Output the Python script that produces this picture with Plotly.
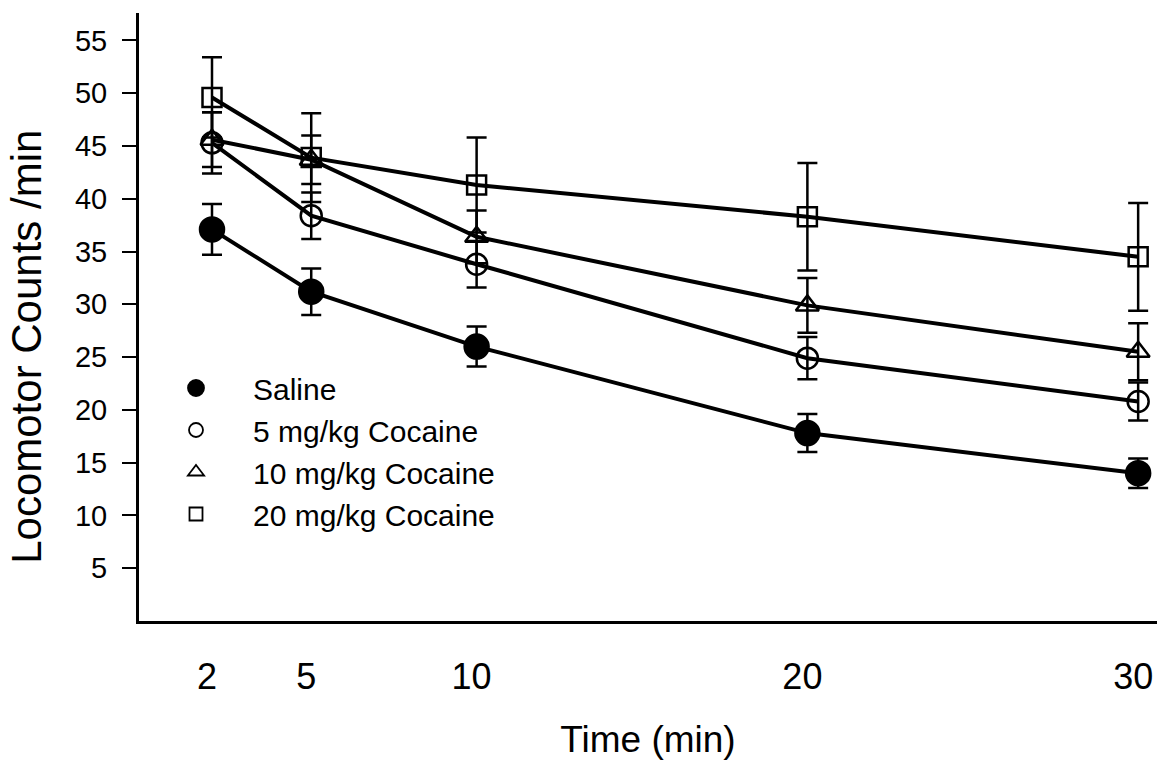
import plotly.graph_objects as go

# Sampling times (min)
time_min = [2, 5, 10, 20, 30]

# Mean locomotor counts per minute and error (SEM) for each treatment
saline = [37.1, 31.2, 26.0, 17.8, 14.0]
saline_err = [2.4, 2.2, 1.9, 1.8, 1.4]

cocaine_5 = [45.3, 38.4, 33.8, 24.9, 20.8]
cocaine_5_err = [2.9, 2.2, 2.2, 2.0, 1.8]

cocaine_10 = [45.6, 43.7, 36.4, 29.9, 25.5]
cocaine_10_err = [2.6, 2.3, 2.5, 2.6, 2.7]

cocaine_20 = [49.6, 43.9, 41.3, 38.3, 34.5]
cocaine_20_err = [3.8, 4.2, 4.5, 5.1, 5.1]

series_names = ["Saline", "5 mg/kg Cocaine", "10 mg/kg Cocaine", "20 mg/kg Cocaine"]
y_ticks = [5, 10, 15, 20, 25, 30, 35, 40, 45, 50, 55]

BLACK = "#000000"
FONT = "Liberation Sans, Arial, sans-serif"

series = [
    (series_names[0], saline, saline_err, "circle", 24),
    (series_names[1], cocaine_5, cocaine_5_err, "circle-open", 21),
    (series_names[2], cocaine_10, cocaine_10_err, "triangle-up-open", 20),
    (series_names[3], cocaine_20, cocaine_20_err, "square-open", 19),
]

fig = go.Figure()

# Data traces: lines, markers and error bars
for name, vals, errs, symbol, size in series:
    fig.add_trace(go.Scatter(
        x=time_min, y=vals,
        mode="lines+markers",
        name=name,
        showlegend=False,
        line=dict(color=BLACK, width=4),
        marker=dict(symbol=symbol, size=size, color=BLACK,
                    line=dict(color=BLACK, width=2.5)),
        error_y=dict(type="data", array=errs, visible=True,
                     color=BLACK, thickness=2.5, width=10),
    ))

# Legend entries: marker only
legend_sizes = [16, 14, 14, 13]
for (name, _, _, symbol, _), lsize in zip(series, legend_sizes):
    fig.add_trace(go.Scatter(
        x=[None], y=[None],
        mode="markers",
        name=name,
        marker=dict(symbol=symbol, size=lsize, color=BLACK,
                    line=dict(color=BLACK, width=1.8)),
    ))

# Y-axis title placed as a rotated annotation
fig.add_annotation(
    text="Locomotor Counts /min",
    xref="paper", yref="paper",
    x=-0.11, y=0.451,
    xanchor="center", yanchor="middle",
    textangle=-90,
    showarrow=False,
    font=dict(family=FONT, size=42, color=BLACK),
)

fig.update_layout(
    width=1158, height=760,
    margin=dict(l=139, r=1, t=13, b=139),
    paper_bgcolor="white",
    plot_bgcolor="white",
    font=dict(family=FONT, color=BLACK),
    legend=dict(
        x=0.0, y=0.426, xanchor="left", yanchor="top",
        font=dict(family=FONT, size=30, color=BLACK),
        itemwidth=104,
        itemsizing="trace",
        tracegroupgap=0,
        bgcolor="rgba(0,0,0,0)",
        borderwidth=0,
    ),
    xaxis=dict(
        range=[-0.207, 30.57],
        tickmode="array",
        tickvals=time_min,
        ticktext=[str(t) for t in time_min],
        ticks="",
        showgrid=False,
        zeroline=False,
        showline=True, linecolor=BLACK, linewidth=3,
        tickfont=dict(family=FONT, size=36, color=BLACK),
        ticklabelstandoff=22,
        ticklabelshift=-5,
        ticklabeloverflow="allow",
        title=dict(text="Time (min)", font=dict(family=FONT, size=37, color=BLACK),
                   standoff=34),
    ),
    yaxis=dict(
        range=[0, 57.6],
        tickmode="array",
        tickvals=y_ticks,
        ticks="outside", ticklen=14, tickwidth=2, tickcolor=BLACK,
        showgrid=False,
        zeroline=False,
        showline=True, linecolor=BLACK, linewidth=3,
        tickfont=dict(family=FONT, size=29, color=BLACK),
        ticklabelstandoff=9,
    ),
)

fig.write_html("out.html")
